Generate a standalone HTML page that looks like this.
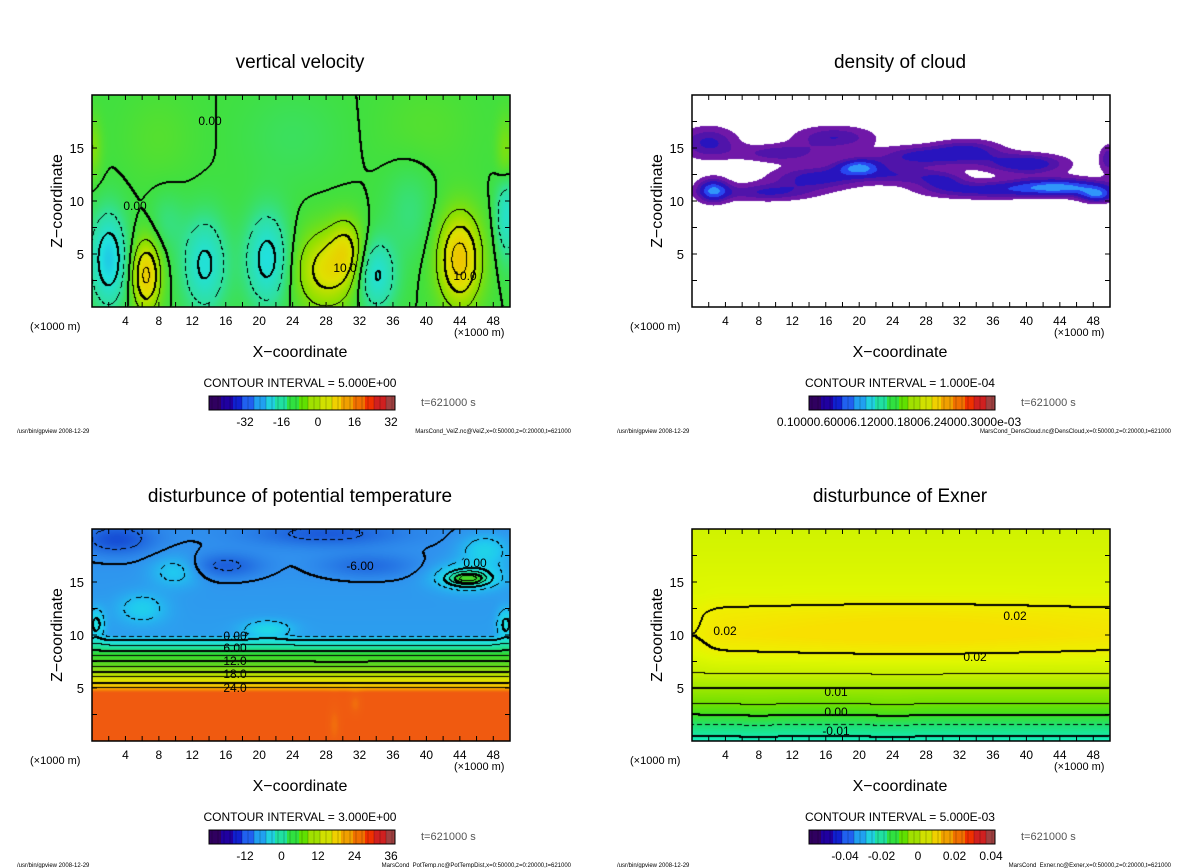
<!DOCTYPE html>
<html><head><meta charset="utf-8"><style>
body{margin:0;background:#fff;width:1200px;height:868px;overflow:hidden;position:relative;font-family:"Liberation Sans",sans-serif}
canvas{position:absolute}
svg{position:absolute;left:0;top:0}
</style></head><body>
<canvas id="c0" width="418" height="212" style="left:92px;top:95px"></canvas>
<canvas id="c1" width="418" height="212" style="left:692px;top:95px"></canvas>
<canvas id="c2" width="418" height="212" style="left:92px;top:529px"></canvas>
<canvas id="c3" width="418" height="212" style="left:692px;top:529px"></canvas>
<svg id="s" width="1200" height="868"></svg>
<script>
// ---- data ----
const xTicks=[4,8,12,16,20,24,28,32,36,40,44,48];
const zTicks=[5,10,15];
const titles=["vertical velocity","density of cloud","disturbunce of potential temperature","disturbunce of Exner"];
const intervals=["5.000E+00","1.000E-04","3.000E+00","5.000E-03"];
const cbLabels=[["-32","-16","0","16","32"],["0.10000.60006.12000.18006.24000.3000e-03"],["-12","0","12","24","36"],["-0.04","-0.02","0","0.02","0.04"]];
const footers=["MarsCond_VelZ.nc@VelZ,x=0:50000,z=0:20000,t=621000","MarsCond_DensCloud.nc@DensCloud,x=0:50000,z=0:20000,t=621000","MarsCond_PotTemp.nc@PotTempDist,x=0:50000,z=0:20000,t=621000","MarsCond_Exner.nc@Exner,x=0:50000,z=0:20000,t=621000"];
// blobs: [x km, z km, amplitude, sx, sz]
const velBlobs=[[2,4.5,-14,1.5,3],[6.5,3,16,1.2,2.3],[13.5,4,-11,1.8,3],[21,4.5,-12,1.8,3],[28,3.5,12,2.6,2.6],[30.5,5.5,8,1.4,2],[34,3,-11,1.6,2.3],[44,4.5,17,1.8,3],[49.6,9,-10,0.9,3],[49.5,14,6,0.8,2.5],[0,15,5,0.8,2],[9,8,-3,1.5,2],[38,9,-3,2,3],[8,16,1.5,3,3],[24,16,-1.5,4,3],[40,17,1.5,4,3]];
const cloudBlobs=[[2,15.5,1.3,2.5,1.1],[17,16,1.2,3.5,0.8],[10.5,14.5,1.1,3.5,0.6],[27,14.2,1.3,3.5,0.7],[33,14.7,1.3,3,0.8],[40,13.5,1.6,3.5,0.7],[20,13.2,1.9,2,0.6],[15,12.2,1.4,4,0.8],[2.5,11,2.0,1.4,0.8],[9,10.8,1.2,4,0.6],[34,11,1.2,5,0.6],[44,11.3,2.2,4.5,0.6],[48.5,10.5,1.6,1.5,0.5],[49.8,14,1.1,0.8,1],[25,12.4,1.0,3,0.6],[30,12,1.0,2,0.6]];
const ptProfileZ=[0,4.5,5,9.5,10,20];
const ptProfileV=[35,35,27,0,-5,-6];
const ptBlobs=[[45,15.5,7,2.8,0.9],[45,15.3,10,1.5,0.4],[3,19,-5,3,1],[16,16.5,-4,3,0.8],[28,19.5,-4,6,0.8],[33,16.5,-3,4,0.8],[6,12.5,4,2,1],[10,16,4,2,1],[21,10.5,5,2,0.6],[0.5,11,6,0.7,1],[49.5,11,6,0.7,1],[47,18,5,2,1],[29,1.5,-3,0.6,1.5],[31.5,3.5,-3,0.6,0.8]];
const exProfileZ=[0,1.5,2.5,3.5,5,6.3,8.5,10,12,14,20];
const exProfileV=[-0.012,-0.005,0,0.005,0.01,0.015,0.0195,0.0215,0.0205,0.018,0.016];
const exBlobs=[[26,10.3,0.0025,15,1.6],[0,10.3,-0.002,1.5,2],[8,2.8,0.0006,2,1],[24,2.8,0.0008,2,1]];

// ---- helpers ----
const W=418,H=212;
function g(b,x,z){let s=0;for(const t of b){const dx=(x-t[0])/t[3],dz=(z-t[1])/t[4];s+=t[2]*Math.exp(-0.5*(dx*dx+dz*dz));}return s;}
function interp(xs,ys,v){if(v<=xs[0])return ys[0];for(let i=1;i<xs.length;i++){if(v<=xs[i]){const f=(v-xs[i-1])/(xs[i]-xs[i-1]);return ys[i-1]+f*(ys[i]-ys[i-1]);}}return ys[ys.length-1];}
function hex(h){return [parseInt(h.substr(1,2),16),parseInt(h.substr(3,2),16),parseInt(h.substr(5,2),16)];}
function cmap(stops){const vs=stops.map(s=>s[0]),cs=stops.map(s=>hex(s[1]));return v=>{if(v<=vs[0])return cs[0];for(let i=1;i<vs.length;i++){if(v<=vs[i]){const f=(v-vs[i-1])/(vs[i]-vs[i-1]);return [0,1,2].map(k=>cs[i-1][k]+f*(cs[i][k]-cs[i-1][k]));}}return cs[cs.length-1];};}
function render(id,fn,col,ci,thickEvery,minL,maxL){
  const c=document.getElementById(id).getContext('2d');const img=c.createImageData(W,H);
  const F=new Float32Array(W*H);
  for(let j=0;j<H;j++)for(let i=0;i<W;i++){const x=(i+0.5)/W*50,z=(H-j-0.5)/H*20;F[j*W+i]=fn(x,z);}
  const mark=new Uint8Array(W*H);
  if(ci){for(let j=0;j<H-1;j++)for(let i=0;i<W-1;i++){const a=Math.floor(F[j*W+i]/ci),b=Math.floor(F[j*W+i+1]/ci),d=Math.floor(F[(j+1)*W+i]/ci);
    if(a!==b||a!==d){const L=Math.max(a,b,d);if(L<minL||L>maxL)continue;
      if(L<=0&&L%thickEvery!==0&&((i+j)%8)>4)continue;
      mark[j*W+i]=1;if(L%thickEvery===0){mark[j*W+i+1]=1;mark[(j+1)*W+i]=1;}}}}
  for(let p=0;p<W*H;p++){let rgb=col(F[p]);if(mark[p])rgb=[0,0,0];img.data[p*4]=rgb[0];img.data[p*4+1]=rgb[1];img.data[p*4+2]=rgb[2];img.data[p*4+3]=255;}
  c.putImageData(img,0,0);
}
// panel 1
const velCol=cmap([[-40,"#3a0070"],[-30,"#2020d0"],[-20,"#2090f0"],[-12,"#20e0e0"],[-5,"#30e0a0"],[0,"#40e040"],[6,"#90e000"],[12,"#e0e000"],[18,"#f0c000"],[25,"#f07000"],[32,"#f02000"],[40,"#a04040"]]);
render('c0',(x,z)=>g(velBlobs,x,z),velCol,5,2,-4,4);
// panel 2
(function(){const c=document.getElementById('c1').getContext('2d');const img=c.createImageData(W,H);
for(let j=0;j<H;j++)for(let i=0;i<W;i++){const x=(i+0.5)/W*50,z=(H-j-0.5)/H*20;const v=g(cloudBlobs,x,z);let rgb=[255,255,255];
if(v>2.1)rgb=[48,150,250];else if(v>1.7)rgb=[40,70,240];else if(v>1.2)rgb=[40,20,190];else if(v>0.85)rgb=[80,20,170];else if(v>0.45)rgb=[112,24,168];
const p=(j*W+i)*4;img.data[p]=rgb[0];img.data[p+1]=rgb[1];img.data[p+2]=rgb[2];img.data[p+3]=255;}
c.putImageData(img,0,0);})();
// panel 3
const ptCol=cmap([[-12,"#1040d0"],[-6,"#3090ee"],[-2,"#20c8f0"],[1,"#20e0e0"],[4,"#20e0a0"],[8,"#30d830"],[14,"#60d820"],[20,"#c0e000"],[24,"#f0e000"],[28,"#f8a000"],[33,"#f06010"],[38,"#f05010"]]);
render('c2',(x,z)=>interp(ptProfileZ,ptProfileV,z)+g(ptBlobs,x,z),ptCol,3,2,-3,9);
// panel 4
const exCol=cmap([[-0.012,"#10f0c0"],[-0.005,"#20e070"],[0,"#40e020"],[0.005,"#70e000"],[0.01,"#a0e800"],[0.015,"#c8f000"],[0.018,"#e0f800"],[0.02,"#eef000"],[0.023,"#f8e000"]]);
render('c3',(x,z)=>interp(exProfileZ,exProfileV,z)+g(exBlobs,x,z),exCol,0.005,2,-2,4);

// ---- svg axes/text ----
const S=document.getElementById('s');const NS="http://www.w3.org/2000/svg";
function el(t,a,txt){const e=document.createElementNS(NS,t);for(const k in a)e.setAttribute(k,a[k]);if(txt!==undefined)e.textContent=txt;S.appendChild(e);return e;}
const offs=[[0,0],[600,0],[0,434],[600,434]];
const rainbow=["#300060","#2000a0","#1020d0","#2060f0","#20a0f0","#20d0e0","#20e0a0","#30e040","#60e000","#a0e000","#d0e000","#f0d000","#f0a000","#f07000","#f03000","#d02020","#a04040"];
offs.forEach((o,k)=>{
  const L=92+o[0],T=95+o[1],R=L+W,B=T+H;
  const xs=v=>L+v/50*W, zs=v=>B-v/20*H;
  let e=el('rect',{x:L,y:T,width:W,height:H,fill:'none',stroke:'#000','stroke-width':1.5});
  
  for(let v=2;v<50;v+=2){el('line',{x1:xs(v),x2:xs(v),y1:B,y2:B-5,stroke:'#000'});el('line',{x1:xs(v),x2:xs(v),y1:T,y2:T+5,stroke:'#000'});}
  for(let v=2.5;v<20;v+=2.5){el('line',{x1:L,x2:L+5,y1:zs(v),y2:zs(v),stroke:'#000'});el('line',{x1:R,x2:R-5,y1:zs(v),y2:zs(v),stroke:'#000'});}
  xTicks.forEach(v=>{e=el('text',{x:xs(v),y:B+18,'font-size':12,'text-anchor':'middle'},v);});
  zTicks.forEach(v=>{e=el('text',{x:L-8,y:zs(v)+5,'font-size':13,'text-anchor':'end'},v);});
  e=el('text',{x:L+208,y:T-27,'font-size':19,'text-anchor':'middle'},titles[k]);
  e=el('text',{x:0,y:0,'font-size':16,'text-anchor':'middle',transform:`translate(${L-30},${T+106}) rotate(-90)`},'Z−coordinate');
  e=el('text',{x:L+208,y:B+50,'font-size':16,'text-anchor':'middle'},'X−coordinate');
  el('text',{x:L-62,y:B+23,'font-size':11},'(×1000 m)');
  el('text',{x:L+362,y:B+29,'font-size':11},'(×1000 m)');
  e=el('text',{x:L+208,y:B+80,'font-size':12,'text-anchor':'middle'},'CONTOUR INTERVAL = '+intervals[k]);
  const cx=L+117,cy=B+89,cw=186,ch=14;
  for(let i=0;i<62;i++){el('rect',{x:cx+i*cw/62,y:cy,width:cw/62+0.3,height:ch,fill:rainbow[Math.floor(i/62*rainbow.length)]});if(i%2)el('line',{x1:cx+i*cw/62,x2:cx+i*cw/62,y1:cy,y2:cy+ch,stroke:'rgba(0,0,0,0.35)','stroke-width':0.6});}
  e=el('rect',{x:cx,y:cy,width:cw,height:ch,fill:'none',stroke:'#000'});
  const lb=cbLabels[k];
  if(lb.length===1){el('text',{x:cx+90,y:cy+30,'font-size':12,'text-anchor':'middle'},lb[0]);}
  else lb.forEach((t,i)=>el('text',{x:cx+36+i*36.5,y:cy+30,'font-size':12,'text-anchor':'middle'},t));
  el('text',{x:L+329,y:cy+10,'font-size':11,fill:'#555'},'t=621000 s');
  el('text',{x:L-75,y:B+126,'font-size':6},'/usr/bin/gpview   2008-12-29');
  el('text',{x:L+479,y:B+126,'font-size':6,'text-anchor':'end'},footers[k]);
});
// contour labels
[[0,"0.00",135,210],[0,"10.0",345,272],[0,"10.0",465,280],[0,"0.00",210,125],[2,"0.00",235,640],[2,"6.00",235,652],[2,"12.0",235,665],[2,"18.0",235,678],[2,"24.0",235,692],[2,"-6.00",360,570],[2,"0.00",475,567],[3,"0.02",725,635],[3,"0.02",1015,620],[3,"0.02",975,661],[3,"0.01",836,696],[3,"0.00",836,716],[3,"-0.01",836,735]].forEach(t=>{const e=el('text',{x:t[2],y:t[3],'font-size':12,'text-anchor':'middle'},t[1]);});
</script></body></html>
